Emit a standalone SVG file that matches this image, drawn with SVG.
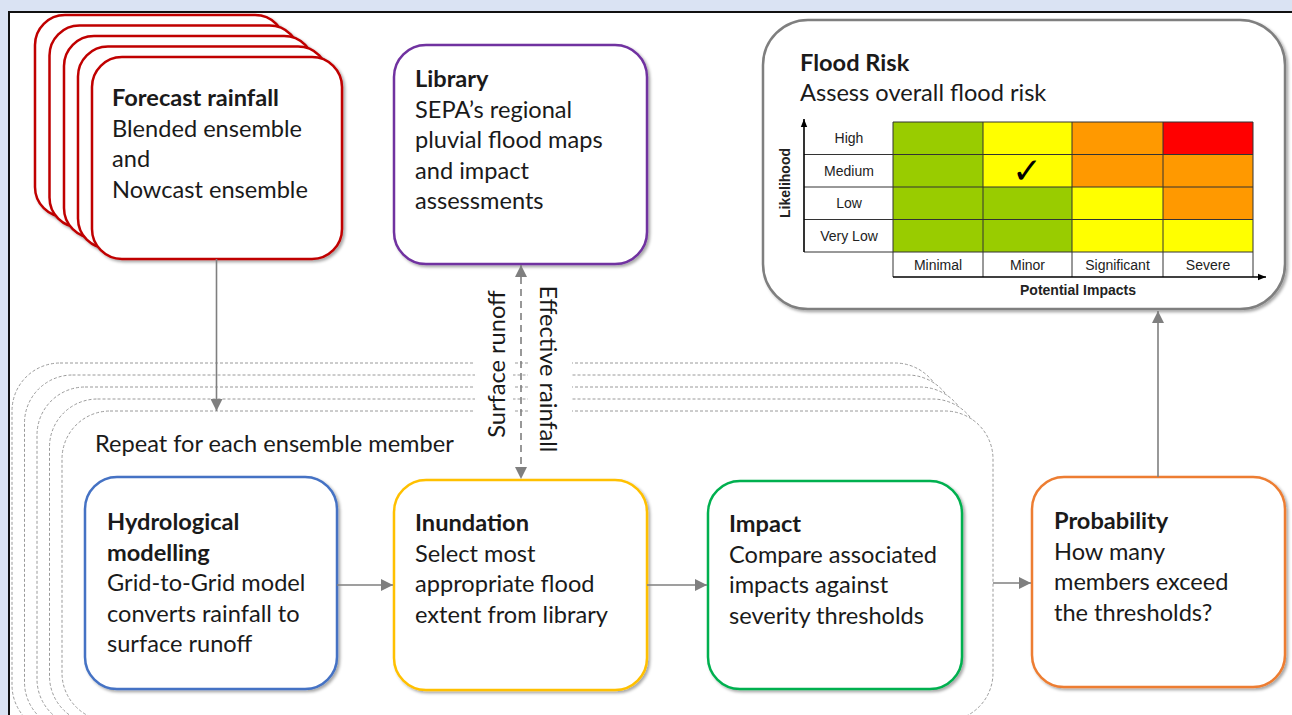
<svg xmlns="http://www.w3.org/2000/svg" width="1292" height="715" viewBox="0 0 1292 715">
<defs>
<filter id="sh" x="-10%" y="-10%" width="125%" height="125%">
<feDropShadow dx="2" dy="2" stdDeviation="1.8" flood-color="#000" flood-opacity="0.35"/>
</filter>
<marker id="ah" viewBox="0 0 10 10" refX="10" refY="5" markerWidth="12" markerHeight="12" markerUnits="userSpaceOnUse" orient="auto-start-reverse">
<path d="M0,0 L10,5 L0,10 Z" fill="#7f7f7f"/>
</marker>
<marker id="ak" viewBox="0 0 10 10" refX="10" refY="5" markerWidth="8" markerHeight="8" markerUnits="userSpaceOnUse" orient="auto">
<path d="M0,1 L10,5 L0,9 Z" fill="#000"/>
</marker>
</defs>
<style>
.t{font-family:Lato,"Open Sans","Liberation Sans",sans-serif;font-size:23.6px;fill:#1a1a1a}
.b{font-weight:bold}
.box{fill:#fff;stroke-width:2.5;filter:url(#sh)}
.red{stroke:#c00000}
.dash{fill:#fff;stroke:#9a9a9a;stroke-width:1;stroke-dasharray:3 2}
.conn{stroke:#7f7f7f;stroke-width:1.6;fill:none}
.m{font-family:"Liberation Sans",Arial,sans-serif;font-size:14px;fill:#222;text-anchor:middle}
.grid{stroke:#333;stroke-width:1;fill:none}
</style>
<rect x="0" y="0" width="1292" height="715" fill="#dae3f3"/>
<rect x="9" y="12" width="1300" height="720" fill="#fff" stroke="#111" stroke-width="2"/>

<g id="forecast">
<rect class="box red" x="35" y="15" width="250" height="202" rx="30"/>
<rect class="box red" x="49.5" y="25.5" width="250" height="202" rx="30"/>
<rect class="box red" x="64" y="36" width="250" height="202" rx="30"/>
<rect class="box red" x="78" y="46.5" width="250" height="202" rx="30"/>
<rect class="box red" x="92" y="57" width="250" height="202" rx="30"/>
<text class="t" x="112" y="106"><tspan class="b">Forecast rainfall</tspan><tspan x="112" dy="30.5">Blended ensemble</tspan><tspan x="112" dy="30.5">and</tspan><tspan x="112" dy="30.5">Nowcast ensemble</tspan></text>
</g>

<g id="library">
<rect class="box" stroke="#7030a0" x="394" y="45" width="253" height="219" rx="32"/>
<text class="t" x="415" y="87"><tspan class="b">Library</tspan><tspan x="415" dy="30.5">SEPA’s regional</tspan><tspan x="415" dy="30.5">pluvial flood maps</tspan><tspan x="415" dy="30.5">and impact</tspan><tspan x="415" dy="30.5">assessments</tspan></text>
</g>

<g id="floodrisk">
<rect class="box" stroke="#7f7f7f" x="763" y="20" width="522" height="289" rx="45"/>
<text class="t" x="800" y="71"><tspan class="b">Flood Risk</tspan><tspan x="800" y="101">Assess overall flood risk</tspan></text>
<g id="matrix">
<rect x="893" y="122" width="90" height="32.5" fill="#99cc00"/>
<rect x="983" y="122" width="89" height="32.5" fill="#ffff00"/>
<rect x="1072" y="122" width="91" height="32.5" fill="#ff9900"/>
<rect x="1163" y="122" width="90" height="32.5" fill="#ff0000"/>
<rect x="893" y="154.5" width="90" height="32.5" fill="#99cc00"/>
<rect x="983" y="154.5" width="89" height="32.5" fill="#ffff00"/>
<rect x="1072" y="154.5" width="91" height="32.5" fill="#ff9900"/>
<rect x="1163" y="154.5" width="90" height="32.5" fill="#ff9900"/>
<rect x="893" y="187" width="90" height="32.5" fill="#99cc00"/>
<rect x="983" y="187" width="89" height="32.5" fill="#99cc00"/>
<rect x="1072" y="187" width="91" height="32.5" fill="#ffff00"/>
<rect x="1163" y="187" width="90" height="32.5" fill="#ff9900"/>
<rect x="893" y="219.5" width="90" height="32.5" fill="#99cc00"/>
<rect x="983" y="219.5" width="89" height="32.5" fill="#99cc00"/>
<rect x="1072" y="219.5" width="91" height="32.5" fill="#ffff00"/>
<rect x="1163" y="219.5" width="90" height="32.5" fill="#ffff00"/>
<path class="grid" d="M893,122 H1253 V252 M804,154.5 H1253 M804,187 H1253 M804,219.5 H1253 M804,252 H1253 M893,122 V277 M983,122 V277 M1072,122 V277 M1163,122 V277 M1253,252 V277"/>
<line x1="804" y1="252" x2="804" y2="119" stroke="#000" stroke-width="1.6" marker-end="url(#ak)"/>
<line x1="893" y1="277" x2="1266" y2="277" stroke="#000" stroke-width="1.6" marker-end="url(#ak)"/>
<text class="m" x="849" y="143">High</text>
<text class="m" x="849" y="175.5">Medium</text>
<text class="m" x="849" y="208">Low</text>
<text class="m" x="849" y="240.5">Very Low</text>
<text class="m" x="938" y="270">Minimal</text>
<text class="m" x="1027.5" y="270">Minor</text>
<text class="m" x="1117.5" y="270">Significant</text>
<text class="m" x="1208" y="270">Severe</text>
<text class="m" x="1078" y="295" font-weight="bold" font-size="13.5">Potential Impacts</text>
<text class="m" font-weight="bold" font-size="13.5" transform="translate(790,183) rotate(-90)">Likelihood</text>
<text x="1027" y="183" font-family="DejaVu Sans,sans-serif" font-size="36" font-weight="bold" fill="#000" text-anchor="middle">✓</text>
</g>
</g>

<g id="ensemble">
<rect class="dash" x="12" y="363" width="931" height="370" rx="48"/>
<rect class="dash" x="24.5" y="375" width="931" height="355" rx="48"/>
<rect class="dash" x="37" y="387" width="931" height="340" rx="48"/>
<rect class="dash" x="49.5" y="399" width="931" height="325" rx="48"/>
<rect class="dash" x="62" y="411" width="931" height="310" rx="48"/>
<rect x="475" y="355" width="38" height="62" fill="#fff"/>
<rect x="528" y="355" width="44" height="62" fill="#fff"/>
<text class="t" x="95" y="452">Repeat for each ensemble member</text>
</g>

<g id="hydro">
<rect class="box" stroke="#4472c4" x="85" y="477" width="252" height="212" rx="32"/>
<text class="t" x="107" y="530"><tspan class="b">Hydrological</tspan><tspan x="107" dy="30.5" class="b">modelling</tspan><tspan x="107" dy="30.5">Grid-to-Grid model</tspan><tspan x="107" dy="30.5">converts rainfall to</tspan><tspan x="107" dy="30.5">surface runoff</tspan></text>
</g>

<g id="inundation">
<rect class="box" stroke="#ffc000" x="394" y="480" width="253" height="210" rx="32"/>
<text class="t" x="415" y="531"><tspan class="b">Inundation</tspan><tspan x="415" dy="30.5">Select most</tspan><tspan x="415" dy="30.5">appropriate flood</tspan><tspan x="415" dy="30.5">extent from library</tspan></text>
</g>

<g id="impact">
<rect class="box" stroke="#00b050" x="708" y="481" width="254" height="208" rx="32"/>
<text class="t" x="729" y="532"><tspan class="b">Impact</tspan><tspan x="729" dy="30.5">Compare associated</tspan><tspan x="729" dy="30.5">impacts against</tspan><tspan x="729" dy="30.5">severity thresholds</tspan></text>
</g>

<g id="probability">
<rect class="box" stroke="#ed7d31" x="1032" y="477" width="253" height="210" rx="32"/>
<text class="t" x="1054" y="529"><tspan class="b">Probability</tspan><tspan x="1054" dy="30.5">How many</tspan><tspan x="1054" dy="30.5">members exceed</tspan><tspan x="1054" dy="30.5">the thresholds?</tspan></text>
</g>

<g id="connectors">
<line class="conn" x1="216.5" y1="259" x2="216.5" y2="411" marker-end="url(#ah)"/>
<line class="conn" x1="337" y1="585" x2="393" y2="585" marker-end="url(#ah)"/>
<line class="conn" x1="647" y1="585" x2="707" y2="585" marker-end="url(#ah)"/>
<line class="conn" x1="993" y1="583" x2="1031" y2="583" marker-end="url(#ah)"/>
<line class="conn" x1="1158" y1="477" x2="1158" y2="311" marker-end="url(#ah)"/>
<line class="conn" x1="521" y1="265" x2="521" y2="479" stroke-dasharray="7 5" marker-start="url(#ah)" marker-end="url(#ah)"/>
<text class="t" transform="translate(505,364) rotate(-90)" text-anchor="middle">Surface runoff</text>
<text class="t" transform="translate(540,369) rotate(90)" text-anchor="middle">Effective rainfall</text>
</g>
</svg>
